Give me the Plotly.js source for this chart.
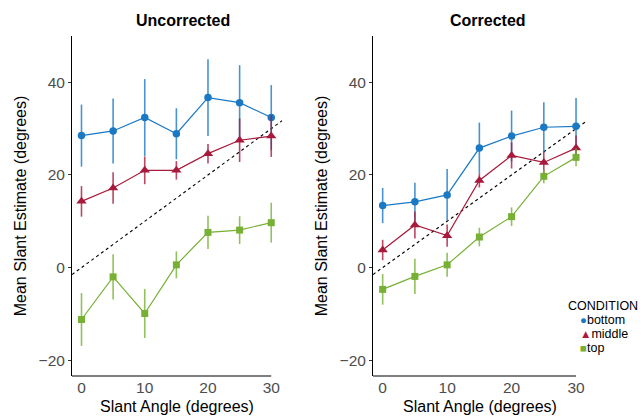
<!DOCTYPE html>
<html>
<head>
<meta charset="utf-8">
<script src="https://cdn.plot.ly/plotly-3.0.1.min.js"></script>
<style>html,body{margin:0;padding:0;background:#fff;}#chart{width:643px;height:418px;}</style>
</head>
<body>
<div id="chart"></div>
<script>
// ---- data ----
const slant = [0, 5, 10, 15, 20, 25, 30];

const uncBottom    = [28.5, 29.5, 32.4, 28.9, 36.7, 35.6, 32.4];
const uncBottomErr = [6.7, 7.0, 8.3, 5.5, 8.3, 8.1, 7.0];
const uncMiddle    = [14.3, 17.2, 21.0, 21.0, 24.6, 27.5, 28.4];
const uncMiddleErr = [3.3, 3.4, 3.0, 2.0, 2.1, 4.7, 4.5];
const uncTop       = [-11.2, -2.0, -9.9, 0.6, 7.6, 8.1, 9.7];
const uncTopErr    = [5.7, 4.9, 5.3, 2.9, 3.6, 3.0, 4.3];

const corBottom    = [13.4, 14.2, 15.7, 25.8, 28.4, 30.3, 30.5];
const corBottomErr = [3.8, 4.1, 5.6, 5.5, 5.5, 5.4, 6.1];
const corMiddle    = [3.8, 9.2, 6.9, 18.8, 24.2, 22.7, 25.8];
const corMiddleErr = [2.2, 2.9, 2.4, 1.5, 2.8, 2.3, 2.7];
const corTop       = [-4.7, -1.9, 0.6, 6.6, 11.0, 19.7, 23.8];
const corTopErr    = [3.3, 3.8, 2.6, 2.0, 2.0, 1.5, 1.9];

const identity = [-1.5, 31.7];   // y = x reference line

const panelTitles = ['Uncorrected', 'Corrected'];
const conditions = ['bottom', 'middle', 'top'];
const yTicks = [-20, 0, 20, 40];
const xTicks = [0, 10, 20, 30];

// ---- styles ----
const FONT = 'Liberation Sans, Arial, Helvetica, sans-serif';
const colors = {bottom: '#1b79c4', middle: '#a81a3c', top: '#77b035'};
const errColors = {bottom: 'rgba(27,121,196,0.8)', middle: 'rgba(168,26,60,0.8)', top: 'rgba(119,176,53,0.8)'};
const symbols = {bottom: 'circle', middle: 'triangle-up', top: 'square'};
const sizes = {bottom: 7.5, middle: 9, top: 7};

function series(y, err, cond, xa, ya) {
  return {
    x: slant, y: y, xaxis: xa, yaxis: ya, type: 'scatter', mode: 'lines+markers',
    showlegend: false, name: cond,
    line: {color: colors[cond], width: 1.2},
    marker: {color: colors[cond], symbol: symbols[cond], size: sizes[cond]},
    error_y: {type: 'data', array: err, visible: true, width: 0, thickness: 1.6, color: errColors[cond]},
    hoverinfo: 'x+y'
  };
}
function refLine(xa, ya) {
  return {x: identity, y: identity, xaxis: xa, yaxis: ya, type: 'scatter', mode: 'lines',
    showlegend: false, line: {color: '#000', width: 1.1, dash: 'dot'}, hoverinfo: 'skip'};
}

const data = [
  refLine('x', 'y'),
  series(uncBottom, uncBottomErr, 'bottom', 'x', 'y'),
  series(uncMiddle, uncMiddleErr, 'middle', 'x', 'y'),
  series(uncTop, uncTopErr, 'top', 'x', 'y'),
  refLine('x2', 'y2'),
  series(corBottom, corBottomErr, 'bottom', 'x2', 'y2'),
  series(corMiddle, corMiddleErr, 'middle', 'x2', 'y2'),
  series(corTop, corTopErr, 'top', 'x2', 'y2')
];

const W = 643, H = 418;
const yDom = [1 - 376 / H, 1 - 36 / H];
const xDom1 = [72 / W, 282 / W];
const xDom2 = [373 / W, 587 / W];

function xAxis(dom, anchor) {
  return {
    domain: dom, anchor: anchor, range: [-1.5, 31.7], showgrid: false, zeroline: false,
    showline: false, ticks: '', tickvals: xTicks, ticktext: xTicks.map(String),
    tickfont: {family: FONT, size: 15.5, color: '#4d4d4d'},
    title: {text: 'Slant Angle (degrees)', font: {family: FONT, size: 16, color: '#000'}, standoff: 6}
  };
}
function yAxis(anchor) {
  return {
    domain: yDom, anchor: anchor, range: [-23.4, 50], showgrid: false, zeroline: false,
    showline: true, linecolor: '#000', linewidth: 1, ticks: 'outside', ticklen: 3, tickcolor: '#333',
    tickvals: yTicks, ticktext: yTicks.map(v => v < 0 ? '\u2212' + Math.abs(v) : String(v)),
    tickfont: {family: FONT, size: 15.5, color: '#4d4d4d'},
    title: {text: 'Mean Slant Estimate (degrees)', font: {family: FONT, size: 16, color: '#000'}, standoff: 8}
  };
}

const symGlyph = {bottom: '\u25CF', middle: '\u25B2', top: '\u25A0'};
const legendAnn = [{
  text: 'CONDITION', xref: 'paper', yref: 'paper', x: 566 / W, y: 1 - 306 / H,
  xanchor: 'left', yanchor: 'middle', showarrow: false, font: {family: FONT, size: 12.5, color: '#000'}
}].concat(conditions.map((c, i) => ({
  text: '<span style="color:' + colors[c] + ';font-size:11.5px">' + symGlyph[c] + '</span>' + c,
  xref: 'paper', yref: 'paper', x: 578 / W, y: 1 - (320 + i * 14) / H,
  xanchor: 'left', yanchor: 'middle', showarrow: false, font: {family: FONT, size: 12.5, color: '#000'}
})));

const titleAnn = [
  {text: '<b>' + panelTitles[0] + '</b>', xref: 'paper', yref: 'paper', x: 183 / W, y: 1 - 20 / H,
   xanchor: 'center', yanchor: 'middle', showarrow: false, font: {family: FONT, size: 16, color: '#000'}},
  {text: '<b>' + panelTitles[1] + '</b>', xref: 'paper', yref: 'paper', x: 488 / W, y: 1 - 21 / H,
   xanchor: 'center', yanchor: 'middle', showarrow: false, font: {family: FONT, size: 16, color: '#000'}}
];

const layout = {
  width: W, height: H, margin: {l: 0, r: 0, t: 0, b: 0},
  paper_bgcolor: '#fff', plot_bgcolor: '#fff', showlegend: false,
  font: {family: FONT},
  xaxis: xAxis(xDom1, 'y'), yaxis: yAxis('x'),
  xaxis2: xAxis(xDom2, 'y2'), yaxis2: yAxis('x2'),
  shapes: [
    {type: 'line', xref: 'x', yref: 'y domain', x0: -1.5, x1: 30, y0: 0, y1: 0, line: {color: '#555', width: 1.5}},
    {type: 'line', xref: 'x2', yref: 'y2 domain', x0: -1.5, x1: 30, y0: 0, y1: 0, line: {color: '#555', width: 1.5}}
  ],
  annotations: titleAnn.concat(legendAnn)
};

Plotly.newPlot('chart', data, layout, {staticPlot: true, displayModeBar: false});
</script>
</body>
</html>
